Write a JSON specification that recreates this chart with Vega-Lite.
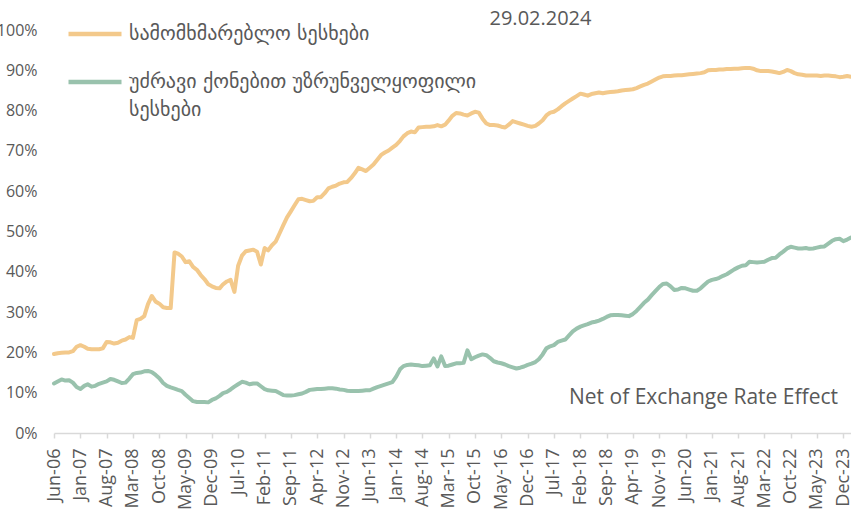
{
  "$schema": "https://vega.github.io/schema/vega-lite/v6.json",
  "autosize": "none",
  "width": 797,
  "height": 403,
  "padding": {"left": 54, "top": 30, "right": 0, "bottom": 88},
  "background": "white",
  "title": {"text": "29.02.2024", "anchor": "middle", "frame": "group", "dx": 88, "offset": -40, "baseline": "alphabetic", "fontSize": 20, "font": "Open Sans", "fontWeight": "normal", "color": "#595959"},
  "config": {"view": {"stroke": null}, "font": "Open Sans", "style": {"guide-label": {"lineHeight": 28}}},
  "data": {"values": [
    {"d":"2006-06","a":19.6,"b":12.3},{"d":"2006-07","a":19.8,"b":12.8},{"d":"2006-08","a":19.9,"b":13.3},{"d":"2006-09","a":20.0,"b":13.0},{"d":"2006-10","a":20.0,"b":13.1},{"d":"2006-11","a":20.3,"b":12.5},{"d":"2006-12","a":21.4,"b":11.4},
    {"d":"2007-01","a":21.8,"b":10.9},{"d":"2007-02","a":21.4,"b":11.7},{"d":"2007-03","a":20.9,"b":12.1},{"d":"2007-04","a":20.8,"b":11.5},{"d":"2007-05","a":20.8,"b":11.7},{"d":"2007-06","a":20.8,"b":12.2},{"d":"2007-07","a":21.0,"b":12.5},{"d":"2007-08","a":22.6,"b":12.8},{"d":"2007-09","a":22.5,"b":13.4},{"d":"2007-10","a":22.2,"b":13.2},{"d":"2007-11","a":22.4,"b":12.8},{"d":"2007-12","a":22.9,"b":12.4},
    {"d":"2008-01","a":23.2,"b":12.5},{"d":"2008-02","a":23.8,"b":13.5},{"d":"2008-03","a":23.6,"b":14.6},{"d":"2008-04","a":28.0,"b":14.9},{"d":"2008-05","a":28.3,"b":15.0},{"d":"2008-06","a":29.0,"b":15.3},{"d":"2008-07","a":32.0,"b":15.4},{"d":"2008-08","a":34.0,"b":15.1},{"d":"2008-09","a":32.6,"b":14.4},{"d":"2008-10","a":32.1,"b":13.6},{"d":"2008-11","a":31.2,"b":12.4},{"d":"2008-12","a":31.0,"b":11.7},
    {"d":"2009-01","a":31.0,"b":11.3},{"d":"2009-02","a":44.8,"b":11.0},{"d":"2009-03","a":44.5,"b":10.7},{"d":"2009-04","a":43.8,"b":10.4},{"d":"2009-05","a":42.4,"b":9.5},{"d":"2009-06","a":42.6,"b":8.7},{"d":"2009-07","a":41.2,"b":7.9},{"d":"2009-08","a":40.5,"b":7.7},{"d":"2009-09","a":39.2,"b":7.7},{"d":"2009-10","a":38.2,"b":7.7},{"d":"2009-11","a":36.9,"b":7.6},{"d":"2009-12","a":36.4,"b":8.2},
    {"d":"2010-01","a":36.0,"b":8.6},{"d":"2010-02","a":35.9,"b":9.2},{"d":"2010-03","a":36.9,"b":9.9},{"d":"2010-04","a":37.6,"b":10.2},{"d":"2010-05","a":38.0,"b":10.8},{"d":"2010-06","a":35.0,"b":11.5},{"d":"2010-07","a":41.5,"b":12.1},{"d":"2010-08","a":44.0,"b":12.7},{"d":"2010-09","a":45.1,"b":12.5},{"d":"2010-10","a":45.3,"b":12.1},{"d":"2010-11","a":45.5,"b":12.3},{"d":"2010-12","a":45.0,"b":12.3},
    {"d":"2011-01","a":41.8,"b":11.6},{"d":"2011-02","a":45.9,"b":10.9},{"d":"2011-03","a":45.3,"b":10.6},{"d":"2011-04","a":46.6,"b":10.5},{"d":"2011-05","a":47.5,"b":10.4},{"d":"2011-06","a":49.5,"b":9.9},{"d":"2011-07","a":51.5,"b":9.4},{"d":"2011-08","a":53.5,"b":9.3},{"d":"2011-09","a":55.0,"b":9.3},{"d":"2011-10","a":56.5,"b":9.4},{"d":"2011-11","a":58.0,"b":9.6},{"d":"2011-12","a":58.1,"b":9.8},
    {"d":"2012-01","a":57.8,"b":10.2},{"d":"2012-02","a":57.5,"b":10.7},{"d":"2012-03","a":57.6,"b":10.8},{"d":"2012-04","a":58.5,"b":10.9},{"d":"2012-05","a":58.5,"b":10.9},{"d":"2012-06","a":59.5,"b":11.0},{"d":"2012-07","a":60.7,"b":11.1},{"d":"2012-08","a":61.1,"b":11.1},{"d":"2012-09","a":61.4,"b":11.0},{"d":"2012-10","a":61.9,"b":10.8},{"d":"2012-11","a":62.2,"b":10.7},{"d":"2012-12","a":62.3,"b":10.5},
    {"d":"2013-01","a":63.3,"b":10.4},{"d":"2013-02","a":64.5,"b":10.4},{"d":"2013-03","a":65.8,"b":10.4},{"d":"2013-04","a":65.4,"b":10.5},{"d":"2013-05","a":65.0,"b":10.6},{"d":"2013-06","a":65.8,"b":10.6},{"d":"2013-07","a":66.6,"b":11.0},{"d":"2013-08","a":67.8,"b":11.4},{"d":"2013-09","a":69.0,"b":11.7},{"d":"2013-10","a":69.6,"b":12.0},{"d":"2013-11","a":70.1,"b":12.3},{"d":"2013-12","a":70.8,"b":12.6},
    {"d":"2014-01","a":71.5,"b":14.0},{"d":"2014-02","a":72.5,"b":15.8},{"d":"2014-03","a":73.6,"b":16.6},{"d":"2014-04","a":74.4,"b":16.9},{"d":"2014-05","a":74.8,"b":17.0},{"d":"2014-06","a":74.6,"b":16.9},{"d":"2014-07","a":75.8,"b":16.8},{"d":"2014-08","a":75.9,"b":16.6},{"d":"2014-09","a":76.0,"b":16.7},{"d":"2014-10","a":76.0,"b":16.8},{"d":"2014-11","a":76.1,"b":18.5},{"d":"2014-12","a":76.4,"b":16.5},
    {"d":"2015-01","a":76.1,"b":19.0},{"d":"2015-02","a":76.5,"b":16.6},{"d":"2015-03","a":77.5,"b":16.7},{"d":"2015-04","a":78.7,"b":17.0},{"d":"2015-05","a":79.4,"b":17.3},{"d":"2015-06","a":79.3,"b":17.3},{"d":"2015-07","a":79.0,"b":17.4},{"d":"2015-08","a":78.8,"b":20.5},{"d":"2015-09","a":79.3,"b":18.3},{"d":"2015-10","a":79.7,"b":18.8},{"d":"2015-11","a":79.5,"b":19.2},{"d":"2015-12","a":78.0,"b":19.5},
    {"d":"2016-01","a":76.8,"b":19.3},{"d":"2016-02","a":76.4,"b":18.6},{"d":"2016-03","a":76.4,"b":17.8},{"d":"2016-04","a":76.3,"b":17.5},{"d":"2016-05","a":76.0,"b":17.3},{"d":"2016-06","a":75.8,"b":17.0},{"d":"2016-07","a":76.5,"b":16.6},{"d":"2016-08","a":77.4,"b":16.3},{"d":"2016-09","a":77.1,"b":16.0},{"d":"2016-10","a":76.8,"b":16.2},{"d":"2016-11","a":76.5,"b":16.5},{"d":"2016-12","a":76.2,"b":16.9},
    {"d":"2017-01","a":76.0,"b":17.2},{"d":"2017-02","a":76.2,"b":17.6},{"d":"2017-03","a":76.8,"b":18.3},{"d":"2017-04","a":77.6,"b":19.5},{"d":"2017-05","a":78.8,"b":21.0},{"d":"2017-06","a":79.5,"b":21.5},{"d":"2017-07","a":79.7,"b":21.8},{"d":"2017-08","a":80.3,"b":22.6},{"d":"2017-09","a":81.1,"b":22.9},{"d":"2017-10","a":81.8,"b":23.2},{"d":"2017-11","a":82.4,"b":24.2},{"d":"2017-12","a":83.0,"b":25.2},
    {"d":"2018-01","a":83.6,"b":25.9},{"d":"2018-02","a":84.2,"b":26.4},{"d":"2018-03","a":84.0,"b":26.7},{"d":"2018-04","a":83.7,"b":27.0},{"d":"2018-05","a":84.1,"b":27.4},{"d":"2018-06","a":84.3,"b":27.6},{"d":"2018-07","a":84.5,"b":27.9},{"d":"2018-08","a":84.3,"b":28.3},{"d":"2018-09","a":84.5,"b":28.8},{"d":"2018-10","a":84.6,"b":29.2},{"d":"2018-11","a":84.7,"b":29.3},{"d":"2018-12","a":84.8,"b":29.3},
    {"d":"2019-01","a":85.0,"b":29.2},{"d":"2019-02","a":85.1,"b":29.1},{"d":"2019-03","a":85.2,"b":29.0},{"d":"2019-04","a":85.3,"b":29.5},{"d":"2019-05","a":85.6,"b":30.3},{"d":"2019-06","a":86.0,"b":31.3},{"d":"2019-07","a":86.4,"b":32.3},{"d":"2019-08","a":86.7,"b":33.1},{"d":"2019-09","a":87.2,"b":34.2},{"d":"2019-10","a":87.7,"b":35.2},{"d":"2019-11","a":88.2,"b":36.2},{"d":"2019-12","a":88.5,"b":37.0},
    {"d":"2020-01","a":88.6,"b":37.1},{"d":"2020-02","a":88.6,"b":36.4},{"d":"2020-03","a":88.7,"b":35.5},{"d":"2020-04","a":88.8,"b":35.6},{"d":"2020-05","a":88.8,"b":36.0},{"d":"2020-06","a":88.9,"b":35.9},{"d":"2020-07","a":89.0,"b":35.6},{"d":"2020-08","a":89.1,"b":35.3},{"d":"2020-09","a":89.2,"b":35.3},{"d":"2020-10","a":89.3,"b":35.9},{"d":"2020-11","a":89.5,"b":36.8},{"d":"2020-12","a":90.0,"b":37.6},
    {"d":"2021-01","a":90.1,"b":38.0},{"d":"2021-02","a":90.1,"b":38.2},{"d":"2021-03","a":90.2,"b":38.5},{"d":"2021-04","a":90.2,"b":39.0},{"d":"2021-05","a":90.3,"b":39.4},{"d":"2021-06","a":90.3,"b":40.0},{"d":"2021-07","a":90.4,"b":40.6},{"d":"2021-08","a":90.4,"b":41.1},{"d":"2021-09","a":90.5,"b":41.5},{"d":"2021-10","a":90.6,"b":41.6},{"d":"2021-11","a":90.6,"b":42.5},{"d":"2021-12","a":90.4,"b":42.4},
    {"d":"2022-01","a":90.0,"b":42.3},{"d":"2022-02","a":89.8,"b":42.4},{"d":"2022-03","a":89.8,"b":42.5},{"d":"2022-04","a":89.8,"b":43.0},{"d":"2022-05","a":89.7,"b":43.4},{"d":"2022-06","a":89.5,"b":43.5},{"d":"2022-07","a":89.3,"b":44.3},{"d":"2022-08","a":89.6,"b":45.0},{"d":"2022-09","a":90.1,"b":45.8},{"d":"2022-10","a":89.8,"b":46.2},{"d":"2022-11","a":89.3,"b":46.0},{"d":"2022-12","a":89.0,"b":45.8},
    {"d":"2023-01","a":88.9,"b":45.8},{"d":"2023-02","a":88.7,"b":45.9},{"d":"2023-03","a":88.7,"b":45.7},{"d":"2023-04","a":88.7,"b":45.8},{"d":"2023-05","a":88.7,"b":46.0},{"d":"2023-06","a":88.6,"b":46.2},{"d":"2023-07","a":88.7,"b":46.3},{"d":"2023-08","a":88.7,"b":47.0},{"d":"2023-09","a":88.6,"b":47.7},{"d":"2023-10","a":88.5,"b":48.1},{"d":"2023-11","a":88.3,"b":48.2},{"d":"2023-12","a":88.4,"b":47.6},
    {"d":"2024-01","a":88.6,"b":48.0},{"d":"2024-02","a":88.4,"b":48.5}
  ]},
  "layer": [
    {
      "transform": [{"fold": ["a", "b"], "as": ["k", "v"]}],
      "mark": {"type": "line", "strokeWidth": 4, "strokeJoin": "round", "strokeCap": "round"},
      "encoding": {
        "x": {
          "field": "d", "type": "temporal",
          "scale": {"type": "utc", "domain": [{"year": 2006, "month": 6, "date": 1, "utc": true}, {"year": 2024, "month": 2, "date": 1, "utc": true}]},
          "axis": {
            "title": null, "tickCount": 100,
            "values": [
              {"year":2006,"month":6,"date":1,"utc":true},{"year":2007,"month":1,"date":1,"utc":true},{"year":2007,"month":8,"date":1,"utc":true},{"year":2008,"month":3,"date":1,"utc":true},{"year":2008,"month":10,"date":1,"utc":true},{"year":2009,"month":5,"date":1,"utc":true},{"year":2009,"month":12,"date":1,"utc":true},{"year":2010,"month":7,"date":1,"utc":true},{"year":2011,"month":2,"date":1,"utc":true},{"year":2011,"month":9,"date":1,"utc":true},{"year":2012,"month":4,"date":1,"utc":true},{"year":2012,"month":11,"date":1,"utc":true},{"year":2013,"month":6,"date":1,"utc":true},{"year":2014,"month":1,"date":1,"utc":true},{"year":2014,"month":8,"date":1,"utc":true},{"year":2015,"month":3,"date":1,"utc":true},{"year":2015,"month":10,"date":1,"utc":true},{"year":2016,"month":5,"date":1,"utc":true},{"year":2016,"month":12,"date":1,"utc":true},{"year":2017,"month":7,"date":1,"utc":true},{"year":2018,"month":2,"date":1,"utc":true},{"year":2018,"month":9,"date":1,"utc":true},{"year":2019,"month":4,"date":1,"utc":true},{"year":2019,"month":11,"date":1,"utc":true},{"year":2020,"month":6,"date":1,"utc":true},{"year":2021,"month":1,"date":1,"utc":true},{"year":2021,"month":8,"date":1,"utc":true},{"year":2022,"month":3,"date":1,"utc":true},{"year":2022,"month":10,"date":1,"utc":true},{"year":2023,"month":5,"date":1,"utc":true},{"year":2023,"month":12,"date":1,"utc":true}
            ],
            "labelExpr": "utcFormat(datum.value, '%b-%y')",
            "labelAngle": -90, "labelFontSize": 18, "labelColor": "#595959", "labelFont": "Open Sans", "labelLineHeight": 18,
            "labelPadding": 10, "labelOverlap": false, "labelFlush": false, "labelBound": false, "labelSeparation": 0,
            "grid": false, "domainColor": "#d9d9d9", "domainWidth": 1.5, "tickColor": "#d9d9d9", "tickWidth": 1.5, "tickSize": 5
          }
        },
        "y": {
          "field": "v", "type": "quantitative",
          "scale": {"domain": [0, 100], "nice": false},
          "axis": {
            "title": null, "values": [0, 10, 20, 30, 40, 50, 60, 70, 80, 90, 100], "tickCount": 20,
            "labelExpr": "datum.value + '%'", "labelFontSize": 16, "labelColor": "#595959", "labelFont": "Open Sans", "labelLineHeight": 16,
            "labelPadding": 17, "grid": false, "domain": false, "ticks": false
          }
        },
        "color": {
          "field": "k", "type": "nominal",
          "scale": {"domain": ["a", "b"], "range": ["#f3c98b", "#99c2ad"]},
          "legend": {
            "title": null, "orient": "none", "legendX": 12, "legendY": -25,
            "symbolType": "stroke", "symbolSize": 2809, "symbolStrokeWidth": 4.5,
            "labelFont": "DejaVu Sans", "labelFontSize": 20, "labelColor": "#595959", "labelLimit": 0, "labelOffset": 5,
            "rowPadding": 9,
            "labelExpr": "datum.value == 'a' ? 'სამომხმარებლო სესხები' : ['უძრავი ქონებით უზრუნველყოფილი', 'სესხები']"
          }
        }
      }
    },
    {
      "data": {"values": [{}]},
      "mark": {"type": "text", "text": "Net of Exchange Rate Effect", "align": "right", "baseline": "middle", "dx": -13, "fontSize": 21, "font": "Open Sans", "color": "#595959"},
      "encoding": {
        "x": {"datum": {"year": 2024, "month": 2, "date": 1, "utc": true}, "type": "temporal"},
        "y": {"datum": 8.8, "type": "quantitative"}
      }
    }
  ]
}
